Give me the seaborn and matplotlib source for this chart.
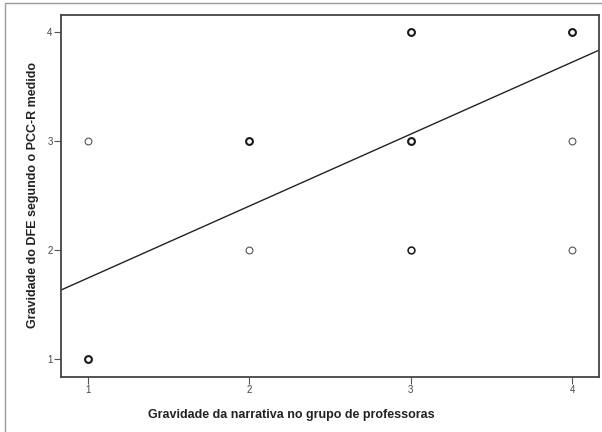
import numpy as np
import pandas as pd
import matplotlib
matplotlib.use("Agg")
import matplotlib.pyplot as plt
import seaborn as sns
from matplotlib.patches import Rectangle

# observed (teacher narrative severity, PCC-R severity) pairs and how many cases overlap
x_narrativa = [1, 1, 2, 2, 3, 3, 3, 4, 4, 4]
y_pcc = [3, 1, 3, 2, 4, 3, 2, 4, 3, 2]
n_casos = [1, 3, 3, 1, 3, 3, 2, 3, 1, 1]

# fit line as printed in the output
intercepto = 1.083
declive = 0.66

x_ticks = [1, 2, 3, 4]
y_ticks = [1, 2, 3, 4]
x_label = "Gravidade da narrativa no grupo de professoras"
y_label = "Gravidade do DFE segundo o PCC-R medido"

df = pd.DataFrame({"x": x_narrativa, "y": y_pcc, "n": n_casos})

sns.set_style("white")
plt.rcParams["font.family"] = ["Liberation Sans", "DejaVu Sans"]

fig = plt.figure(figsize=(6.02, 4.32), dpi=100)
fig.patches.append(Rectangle((5 / 602, -0.01), 1.0, 1 - 3 / 432 + 0.01,
                             transform=fig.transFigure, fill=False,
                             edgecolor="#9a9a9a", linewidth=1.0))
ax = fig.add_axes([61 / 602, 1 - 377 / 432, 538 / 602, 362 / 432])

xlim = (0.833, 4.167)
ylim = (0.835, 4.156)

# regression line across the whole plot area
xs = np.array(xlim)
sns.lineplot(x=xs, y=intercepto + declive * xs, ax=ax, color="#222222",
             linewidth=1.0, zorder=2)

# heavier outline where several cases share the same point
for n, grp in df.groupby("n"):
    sns.scatterplot(data=grp, x="x", y="y", ax=ax, marker="o", s=24,
                    facecolor="white", edgecolor="#1a1a1a" if n > 1 else "#555555",
                    linewidth=0.8 + 0.35 * (n - 1), zorder=3, legend=False)

ax.set_xlim(*xlim)
ax.set_ylim(*ylim)
ax.set_xticks(x_ticks)
ax.set_yticks(y_ticks)
ax.tick_params(axis="both", which="major", length=5, width=0.8, color="#555555",
               labelsize=7, labelcolor="#444444", pad=1, bottom=True, left=True)

for sp in ax.spines.values():
    sp.set_color("#444444")
    sp.set_linewidth(1.3)

ax.set_xlabel(x_label, fontsize=9, fontweight="bold", color="#222222")
ax.set_ylabel(y_label, fontsize=9, fontweight="bold", color="#222222")
ax.xaxis.set_label_coords((291 - 61) / 538, -(409 - 377) / 362)
ax.yaxis.set_label_coords(-(61 - 39) / 538, (377 - 195) / 362)

fig.savefig("out.png", dpi=100)
